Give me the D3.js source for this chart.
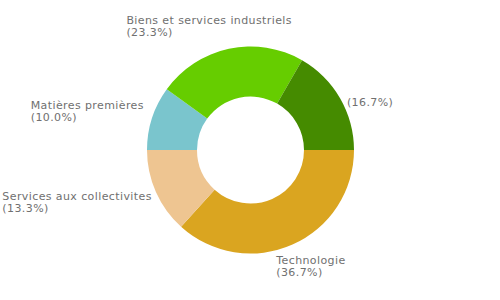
<!DOCTYPE html>
<html>
<head>
<meta charset="utf-8">
<script src="https://cdn.jsdelivr.net/npm/d3@7"></script>
<style>
  body { margin: 0; background: #fff; }
  text { font-family: "DejaVu Sans", sans-serif; font-size: 11px; fill: #707070; letter-spacing: 0.4px; }
</style>
</head>
<body>
<svg id="chart" width="500" height="300"></svg>
<script>
// sector names and shares (percent), in drawing order from 3 o'clock clockwise
var names = ["Technologie", "Services aux collectivites", "Matières premières",
             "Biens et services industriels", ""];
var shares = [36.7, 13.3, 10.0, 23.3, 16.7];
var colors = ["#DAA520", "#EEC591", "#7AC5CD", "#66CD00", "#458B00"];

var width = 500, height = 300;
var cx = 250.5, cy = 150;
var outerR = 103.5, innerR = 53.5, labelR = 115;
var lineH = 12;

var svg = d3.select("#chart");
var g = svg.append("g").attr("transform", "translate(" + cx + "," + cy + ")");

var data = names.map(function(n, i){ return {name: n, value: shares[i], color: colors[i]}; });

var pie = d3.pie()
  .value(function(d){ return d.value; })
  .sort(null)
  .startAngle(Math.PI / 2)
  .endAngle(Math.PI / 2 + 2 * Math.PI);

var arc = d3.arc().innerRadius(innerR).outerRadius(outerR);

var arcs = pie(data);

g.selectAll(".slice")
  .data(arcs)
  .enter().append("path")
  .attr("class", "slice")
  .attr("d", arc)
  .attr("fill", function(d){ return d.data.color; });

// labels: text block placed around a point outside the ring,
// shifted according to the mid angle
arcs.forEach(function(d){
  var a = (d.startAngle + d.endAngle) / 2;
  var px = labelR * Math.sin(a), py = -labelR * Math.cos(a);
  var lines = [d.data.name, "(" + d.data.value.toFixed(1) + "%)"];
  if (d.data.name === "") lines = ["(" + d.data.value.toFixed(1) + "%)"];

  var t = g.append("text");
  lines.forEach(function(l, i){
    t.append("tspan").attr("x", 0).attr("dy", i === 0 ? 0 : lineH).text(l);
  });
  var bb = t.node().getBBox();
  var fx = (1 - Math.sin(a)) / 2, fy = (1 + Math.cos(a)) / 2;
  var bh = lines.length * lineH;
  var left = px - fx * bb.width;
  var top = py - fy * bh;
  if (d.data.name === "") top += 13;
  t.attr("transform", "translate(" + left + "," + (top + 10) + ")");
});
</script>
</body>
</html>
